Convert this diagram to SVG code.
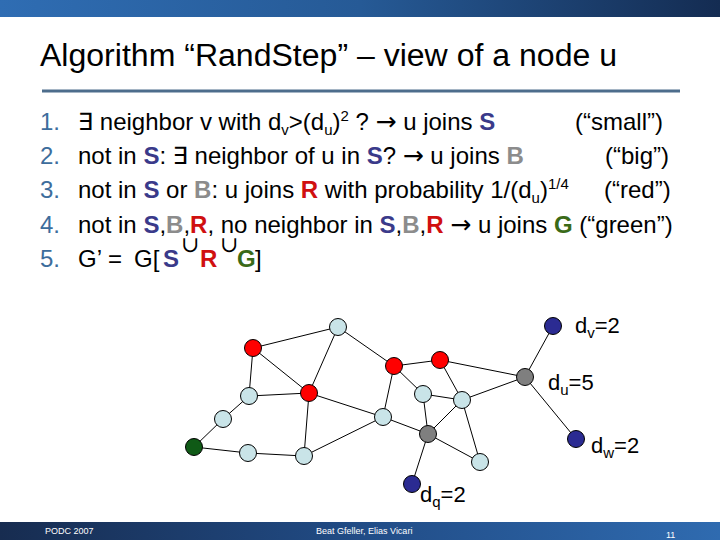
<svg xmlns="http://www.w3.org/2000/svg" width="720" height="540" viewBox="0 0 720 540">
<defs>
<linearGradient id="gTop" x1="0" y1="0" x2="1" y2="0">
<stop offset="0" stop-color="#2f6db3"/><stop offset="0.5" stop-color="#265a96"/><stop offset="1" stop-color="#142c52"/>
</linearGradient>
<linearGradient id="gBot" x1="0" y1="0" x2="1" y2="0">
<stop offset="0" stop-color="#172c50"/><stop offset="0.5" stop-color="#214c86"/><stop offset="1" stop-color="#2f6bb0"/>
</linearGradient>
<style>
text{font-family:"Liberation Sans",Arial,"DejaVu Sans",sans-serif;fill:#000}
.t{font-size:24px}
.n{fill:#3d6d9c}
.S{fill:#3a3a8a;font-weight:bold}
.B{fill:#8c8c8c;font-weight:bold}
.R{fill:#d01010;font-weight:bold}
.G{fill:#3a6a18;font-weight:bold}
.sm{font-size:15px}
.ar{font-family:"DejaVu Sans",sans-serif;font-size:25px}
.cup{font-family:"DejaVu Serif",serif;font-size:22px}
.e line{stroke:#000;stroke-width:1}
circle{stroke:#000;stroke-width:1}
.lb{fill:#c9e4e8}
.rd{fill:#ff0000}
.gy{fill:#7f7f7f}
.bl{fill:#2b2b92}
.gr{fill:#0f5a16}
.ft{fill:#fff;font-size:9px}
.lab{font-size:22px}
</style>
</defs>
<rect x="0" y="0" width="720" height="17" fill="url(#gTop)"/>
<rect x="0" y="522" width="720" height="18" fill="url(#gBot)"/>
<text x="40" y="66" font-size="31" textLength="577" lengthAdjust="spacingAndGlyphs">Algorithm “RandStep” – view of a node u</text>
<line x1="42" y1="91" x2="680" y2="91" stroke="#4d6d8c" stroke-width="3"/>

<g id="list" class="t">
<text x="40" y="130"><tspan class="n">1.</tspan></text>
<text x="40" y="164"><tspan class="n">2.</tspan></text>
<text x="40" y="198"><tspan class="n">3.</tspan></text>
<text x="40" y="233"><tspan class="n">4.</tspan></text>
<text x="40" y="267"><tspan class="n">5.</tspan></text>
<text x="78" y="130">∃ neighbor v with d<tspan class="sm" dy="5">v</tspan><tspan dy="-5">&gt;(d</tspan><tspan class="sm" dy="5">u</tspan><tspan dy="-5">)</tspan><tspan class="sm" dy="-9">2</tspan><tspan dy="9"> ? </tspan><tspan class="ar">→</tspan> u joins <tspan class="S">S</tspan></text>
<text x="575" y="130">(“small”)</text>
<text x="78" y="164">not in <tspan class="S">S</tspan>: ∃ neighbor of u in <tspan class="S">S</tspan>? <tspan class="ar">→</tspan> u joins <tspan class="B">B</tspan></text>
<text x="605" y="164">(“big”)</text>
<text x="78" y="198">not in <tspan class="S">S</tspan> or <tspan class="B">B</tspan>: u joins <tspan class="R">R</tspan> with probability 1/(d<tspan class="sm" dy="5">u</tspan><tspan dy="-5">)</tspan><tspan class="sm" dy="-9">1/4</tspan></text>
<text x="604" y="198">(“red”)</text>
<text x="78" y="233">not in <tspan class="S">S</tspan>,<tspan class="B">B</tspan>,<tspan class="R">R</tspan>, no neighbor in <tspan class="S">S</tspan>,<tspan class="B">B</tspan>,<tspan class="R">R</tspan> <tspan class="ar">→</tspan> u joins <tspan class="G">G</tspan> (“green”)</text>
<text x="78" y="267">G’<tspan x="108">=</tspan><tspan x="134">G[</tspan><tspan class="S" x="163">S</tspan><tspan class="R" x="200">R</tspan><tspan class="G" x="237">G</tspan><tspan x="255">]</tspan></text>
<text class="cup" x="181" y="252">∪</text>
<text class="cup" x="220" y="252">∪</text>
</g>

<g id="edges" class="e">
<line x1="253" y1="348" x2="338" y2="327"/>
<line x1="253" y1="348" x2="249" y2="396"/>
<line x1="253" y1="348" x2="309" y2="393"/>
<line x1="338" y1="327" x2="309" y2="393"/>
<line x1="338" y1="327" x2="394" y2="366"/>
<line x1="249" y1="396" x2="309" y2="393"/>
<line x1="249" y1="396" x2="223" y2="419"/>
<line x1="223" y1="419" x2="194" y2="447"/>
<line x1="194" y1="447" x2="248" y2="453"/>
<line x1="248" y1="453" x2="304" y2="456"/>
<line x1="304" y1="456" x2="309" y2="393"/>
<line x1="304" y1="456" x2="383" y2="417"/>
<line x1="309" y1="393" x2="383" y2="417"/>
<line x1="394" y1="366" x2="383" y2="417"/>
<line x1="394" y1="366" x2="440" y2="360"/>
<line x1="394" y1="366" x2="423" y2="394"/>
<line x1="383" y1="417" x2="428" y2="434"/>
<line x1="423" y1="394" x2="428" y2="434"/>
<line x1="423" y1="394" x2="462" y2="400"/>
<line x1="440" y1="360" x2="462" y2="400"/>
<line x1="440" y1="360" x2="525" y2="377"/>
<line x1="462" y1="400" x2="525" y2="377"/>
<line x1="462" y1="400" x2="428" y2="434"/>
<line x1="462" y1="400" x2="480" y2="462"/>
<line x1="428" y1="434" x2="480" y2="462"/>
<line x1="428" y1="434" x2="412" y2="484"/>
<line x1="525" y1="377" x2="553" y2="326"/>
<line x1="525" y1="377" x2="576" y2="439"/>
</g>

<g id="nodes">
<g id="n1"><circle class="lb" cx="338" cy="327" r="8.5"/></g>
<g id="n2"><circle class="rd" cx="253" cy="348" r="8.5"/></g>
<g id="n3"><circle class="rd" cx="309" cy="393" r="8.5"/></g>
<g id="n4"><circle class="rd" cx="394" cy="366" r="8.5"/></g>
<g id="n5"><circle class="rd" cx="440" cy="360" r="8.5"/></g>
<g id="n6"><circle class="lb" cx="249" cy="396" r="8.5"/></g>
<g id="n7"><circle class="lb" cx="223" cy="419" r="8.5"/></g>
<g id="n8"><circle class="gr" cx="194" cy="447" r="8.5"/></g>
<g id="n9"><circle class="lb" cx="248" cy="453" r="8.5"/></g>
<g id="n10"><circle class="lb" cx="304" cy="456" r="8.5"/></g>
<g id="n11"><circle class="lb" cx="383" cy="417" r="8.5"/></g>
<g id="n12"><circle class="lb" cx="423" cy="394" r="8.5"/></g>
<g id="n13"><circle class="lb" cx="462" cy="400" r="8.5"/></g>
<g id="n14"><circle class="gy" cx="428" cy="434" r="8.5"/></g>
<g id="n15"><circle class="lb" cx="480" cy="462" r="8.5"/></g>
<g id="nq"><circle class="bl" cx="412" cy="484" r="8.5"/><text class="lab" x="420" y="502">d<tspan class="sm" dy="5">q</tspan><tspan dy="-5">=2</tspan></text></g>
<g id="nu"><circle class="gy" cx="525" cy="377" r="8.5"/><text class="lab" x="548" y="390">d<tspan class="sm" dy="5">u</tspan><tspan dy="-5">=5</tspan></text></g>
<g id="nv"><circle class="bl" cx="553" cy="326" r="8.5"/><text class="lab" x="575" y="333">d<tspan class="sm" dy="5">v</tspan><tspan dy="-5">=2</tspan></text></g>
<g id="nw"><circle class="bl" cx="576" cy="439" r="8.5"/><text class="lab" x="591" y="453">d<tspan class="sm" dy="5">w</tspan><tspan dy="-5">=2</tspan></text></g>
</g>

<g id="footer">
<text class="ft" x="45" y="534">PODC 2007</text>
<text class="ft" x="316" y="534">Beat Gfeller, Elias Vicari</text>
<text class="ft" x="666" y="538">11</text>
</g>
</svg>
